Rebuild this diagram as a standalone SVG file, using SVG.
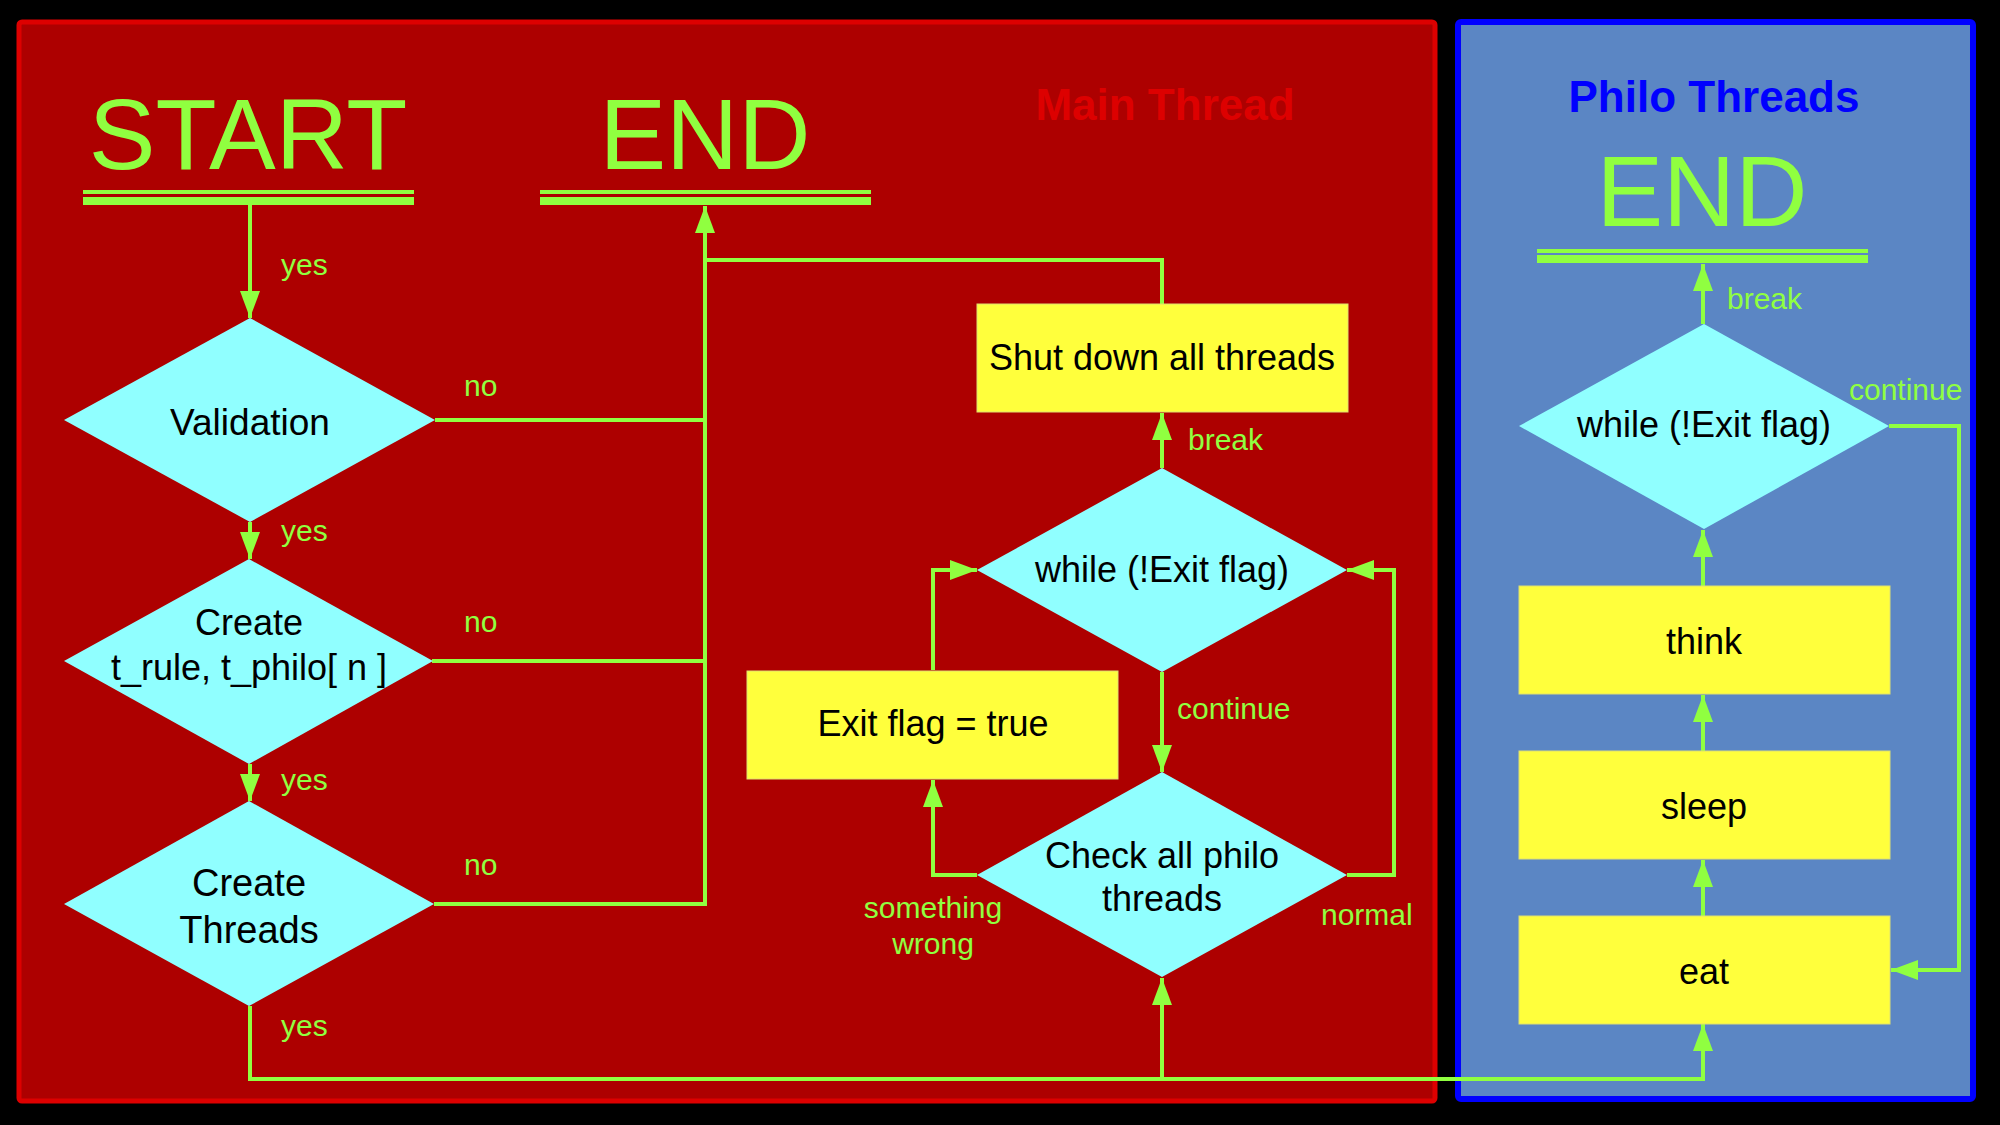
<svg xmlns="http://www.w3.org/2000/svg" width="2000" height="1125" viewBox="0 0 2000 1125">
<defs>
<marker id="ah" markerUnits="userSpaceOnUse" markerWidth="28" markerHeight="20" refX="27" refY="10" orient="auto">
<path d="M0,0 L27,10 L0,20 z" fill="#90ff40"/>
</marker>
<style>
.conn{fill:none;stroke:#90ff40;stroke-width:4}
.lbl{font-family:"Liberation Sans",Arial,sans-serif;font-size:30px;fill:#90ff40}
.ntx{font-family:"Liberation Sans",Arial,sans-serif;font-size:36px;fill:#000;text-anchor:middle}
.big{font-family:"Liberation Sans",Arial,sans-serif;font-size:100px;fill:#90ff40;text-anchor:middle}
.dia{fill:#90ffff}
.box{fill:#ffff3c;stroke:#e0e070;stroke-width:1}
.bar{fill:#90ff40}
</style>
</defs>
<rect x="0" y="0" width="2000" height="1125" fill="#000"/>
<g id="main-panel">
<rect x="19" y="22" width="1416" height="1079" rx="3" fill="#ad0000" stroke="#dd0000" stroke-width="5"/>
<text x="1165" y="120" font-family="Liberation Sans,Arial,sans-serif" font-size="44" font-weight="bold" fill="#dd0000" text-anchor="middle">Main Thread</text>
</g>
<g id="philo-panel">
<rect x="1458" y="22" width="515" height="1077" rx="3" fill="#5b86c4" stroke="#0000ff" stroke-width="6"/>
<text x="1714" y="112" font-family="Liberation Sans,Arial,sans-serif" font-size="44" font-weight="bold" fill="#0000ff" text-anchor="middle">Philo Threads</text>
</g>

<g id="connectors">
<path class="conn" d="M250,205 L250,318" marker-end="url(#ah)"/>
<path class="conn" d="M250,522 L250,559" marker-end="url(#ah)"/>
<path class="conn" d="M250,764 L250,801" marker-end="url(#ah)"/>
<path class="conn" d="M435,420 L705,420"/>
<path class="conn" d="M432,661 L705,661"/>
<path class="conn" d="M434,904 L705,904 L705,206" marker-end="url(#ah)"/>
<path class="conn" d="M1162,304 L1162,260 L705,260"/>
<path class="conn" d="M1162,468 L1162,413" marker-end="url(#ah)"/>
<path class="conn" d="M1162,672 L1162,772" marker-end="url(#ah)"/>
<path class="conn" d="M977,875 L933,875 L933,780" marker-end="url(#ah)"/>
<path class="conn" d="M933,670 L933,570 L977,570" marker-end="url(#ah)"/>
<path class="conn" d="M1347,875 L1394,875 L1394,570 L1347,570" marker-end="url(#ah)"/>
<path class="conn" d="M250,1006 L250,1079 L1703,1079 L1703,1024" marker-end="url(#ah)"/>
<path class="conn" d="M1162,1079 L1162,978" marker-end="url(#ah)"/>
<path class="conn" d="M1703,916 L1703,860" marker-end="url(#ah)"/>
<path class="conn" d="M1703,751 L1703,695" marker-end="url(#ah)"/>
<path class="conn" d="M1703,586 L1703,530" marker-end="url(#ah)"/>
<path class="conn" d="M1703,324 L1703,264" marker-end="url(#ah)"/>
<path class="conn" d="M1889,426 L1959,426 L1959,970 L1891,970" marker-end="url(#ah)"/>
<text class="lbl" x="281" y="275">yes</text>
<text class="lbl" x="464" y="396">no</text>
<text class="lbl" x="281" y="541">yes</text>
<text class="lbl" x="464" y="632">no</text>
<text class="lbl" x="281" y="790">yes</text>
<text class="lbl" x="464" y="875">no</text>
<text class="lbl" x="281" y="1036">yes</text>
<text class="lbl" x="1188" y="450">break</text>
<text class="lbl" x="1177" y="719">continue</text>
<text class="lbl" x="933" y="918" text-anchor="middle">something</text>
<text class="lbl" x="933" y="954" text-anchor="middle">wrong</text>
<text class="lbl" x="1321" y="925">normal</text>
<text class="lbl" x="1727" y="309">break</text>
<text class="lbl" x="1849" y="400">continue</text>
</g>

<g id="start">
<text class="big" x="248" y="169">START</text>
<rect class="bar" x="83" y="190" width="331" height="4"/>
<rect class="bar" x="83" y="197" width="331" height="8"/>
</g>
<g id="end-main">
<text class="big" x="705" y="169">END</text>
<rect class="bar" x="540" y="190" width="331" height="4"/>
<rect class="bar" x="540" y="197" width="331" height="8"/>
</g>
<g id="validation">
<polygon class="dia" points="250,318 435,420 250,522 64,420"/>
<text class="ntx" x="250" y="435" style="font-size:37px">Validation</text>
</g>
<g id="create-rule">
<polygon class="dia" points="249,559 433,661 249,764 64,661"/>
<text class="ntx" x="249" y="635">Create</text>
<text class="ntx" x="249" y="680">t_rule, t_philo[ n ]</text>
</g>
<g id="create-threads">
<polygon class="dia" points="249,801 434,904 249,1006 64,904"/>
<text class="ntx" x="249" y="896" style="font-size:38px">Create</text>
<text class="ntx" x="249" y="943" style="font-size:38px">Threads</text>
</g>
<g id="shutdown">
<rect class="box" x="977" y="304" width="371" height="108"/>
<text class="ntx" x="1162" y="370">Shut down all threads</text>
</g>
<g id="while-main">
<polygon class="dia" points="1162,468 1347,570 1162,672 977,570"/>
<text class="ntx" x="1162" y="582">while (!Exit flag)</text>
</g>
<g id="exit-flag">
<rect class="box" x="747" y="671" width="371" height="108"/>
<text class="ntx" x="933" y="736">Exit flag = true</text>
</g>
<g id="check">
<polygon class="dia" points="1162,772 1347,875 1162,977 977,875"/>
<text class="ntx" x="1162" y="868">Check all philo</text>
<text class="ntx" x="1162" y="911">threads</text>
</g>
<g id="end-philo">
<text class="big" x="1702" y="226">END</text>
<rect class="bar" x="1537" y="249" width="331" height="4"/>
<rect class="bar" x="1537" y="255" width="331" height="8"/>
</g>
<g id="while-philo">
<polygon class="dia" points="1704,324 1889,426 1704,529 1519,426"/>
<text class="ntx" x="1704" y="437">while (!Exit flag)</text>
</g>
<g id="think">
<rect class="box" x="1519" y="586" width="371" height="108"/>
<text class="ntx" x="1704" y="654">think</text>
</g>
<g id="sleep">
<rect class="box" x="1519" y="751" width="371" height="108"/>
<text class="ntx" x="1704" y="819">sleep</text>
</g>
<g id="eat">
<rect class="box" x="1519" y="916" width="371" height="108"/>
<text class="ntx" x="1704" y="984">eat</text>
</g>
</svg>
